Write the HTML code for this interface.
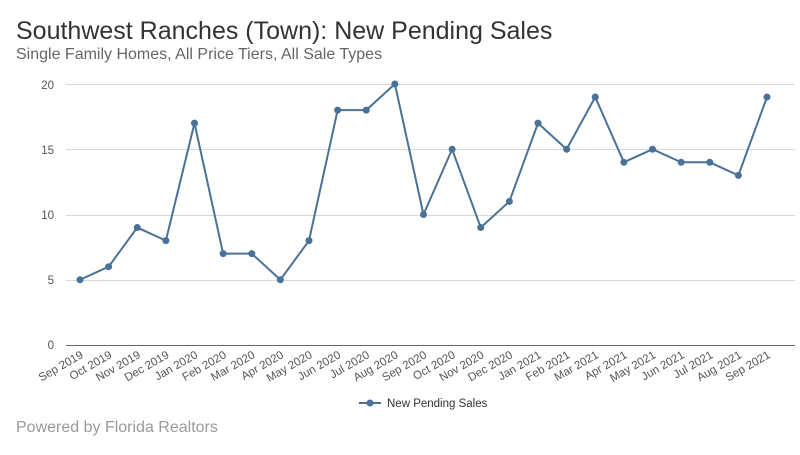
<!DOCTYPE html>
<html><head><meta charset="utf-8"><style>
body{margin:0;background:#fff;width:800px;height:450px;overflow:hidden;font-family:"Liberation Sans",sans-serif}
</style></head><body>
<svg width="800" height="450" xmlns="http://www.w3.org/2000/svg" font-family="Liberation Sans, sans-serif">
<text x="16" y="39" font-size="25" fill="#333">Southwest Ranches (Town): New Pending Sales</text>
<text x="16" y="59" font-size="16" fill="#666">Single Family Homes, All Price Tiers, All Sale Types</text>
<g stroke="#d8d8d8" stroke-width="1">
<line x1="66" x2="795" y1="84.5" y2="84.5"/><line x1="66" x2="795" y1="149.5" y2="149.5"/>
<line x1="66" x2="795" y1="215.5" y2="215.5"/><line x1="66" x2="795" y1="280.5" y2="280.5"/>
</g>
<line x1="66" x2="795" y1="345.5" y2="345.5" stroke="#666" stroke-width="1"/>
<g font-size="11.5" fill="#555" text-anchor="end">
<text x="54" y="89">20</text><text x="54" y="154">15</text><text x="54" y="219">10</text><text x="54" y="284">5</text><text x="54" y="349">0</text>
</g>
<g id="g"></g>
<line x1="359" x2="381" y1="403" y2="403" stroke="#4a7196" stroke-width="2"/>
<circle cx="370" cy="403" r="3.5" fill="#4a7196"/>
<text x="387" y="407" font-size="11.5" fill="#333">New Pending Sales</text>
<text x="16" y="432" font-size="16" fill="#999">Powered by Florida Realtors</text>
</svg>
<script>
const d=[5,6,9,8,17,7,7,5,8,18,18,20,10,15,9,11,17,15,19,14,15,14,14,13,19];
const m=["Jan","Feb","Mar","Apr","May","Jun","Jul","Aug","Sep","Oct","Nov","Dec"];
const g=document.getElementById("g");
let pts=[],s="";
d.forEach((v,i)=>{const x=80+i*28.625,y=345-v*13.05;pts.push(x+","+y);
const mi=(8+i)%12,yr=2019+Math.floor((8+i)/12);
s+=`<circle cx="${x}" cy="${y}" r="3.5" fill="#4a7196"/>`;
s+=`<text font-size="11.5" fill="#555" text-anchor="end" transform="translate(${x+4},${357}) rotate(-30)">${m[mi]} ${yr}</text>`;});
g.innerHTML=`<polyline points="${pts.join(" ")}" fill="none" stroke="#4a7196" stroke-width="2"/>`+s;
</script>
</body></html>
